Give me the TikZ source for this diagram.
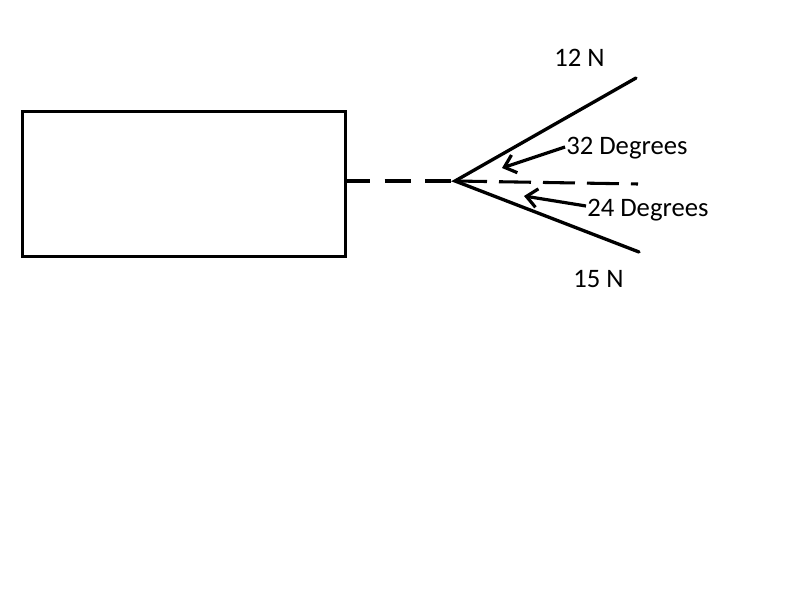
\documentclass[tikz,border=0pt]{standalone}
\usepackage{fontspec}
\setmainfont{Carlito}
\usetikzlibrary{arrows.meta}
\begin{document}
\begin{tikzpicture}[x=0.75pt,y=-0.75pt,
  thick line/.style={line width=2.5pt},
  dashline/.style={line width=2.3pt, dash pattern=on 19.5pt off 11pt},
  lbl/.style={anchor=base west, inner sep=0pt, font=\fontsize{20pt}{24pt}\selectfont},
  pointer/.style={line width=2.4pt, -{Straight Barb[length=8pt,width=14pt,line width=2.4pt]}}]
\useasboundingbox (0,0) rectangle (800,599);
\node[draw, line width=2.6pt, minimum width=323*0.75pt, minimum height=145*0.75pt, inner sep=0pt, anchor=north west] (box) at (21,110) {};
\coordinate (boxr) at (344,181);
\coordinate (apex) at (455,181);
\coordinate (up) at (636,78);
\coordinate (low) at (639,252);
\coordinate (axis) at (638,184);
\node[lbl] (f12) at (554,67) {12 N};
\node[lbl] (d32) at (566,155) {32 Degrees};
\node[lbl] (d24) at (587,217) {24 Degrees};
\node[lbl] (f15) at (573,287) {15 N};
\coordinate (a32) at (565,147);
\coordinate (t32) at (502,168);
\coordinate (a24) at (586,206);
\coordinate (t24) at (524,196);
\draw[dashline] (boxr) -- (apex);
\draw[thick line, line cap=round] (up) -- (apex) -- (low);
\draw[dashline, dash pattern=on 24pt off 9pt] (apex) -- (axis);
\draw[pointer] (a32) -- (t32);
\draw[pointer] (a24) -- (t24);
\end{tikzpicture}
\end{document}
